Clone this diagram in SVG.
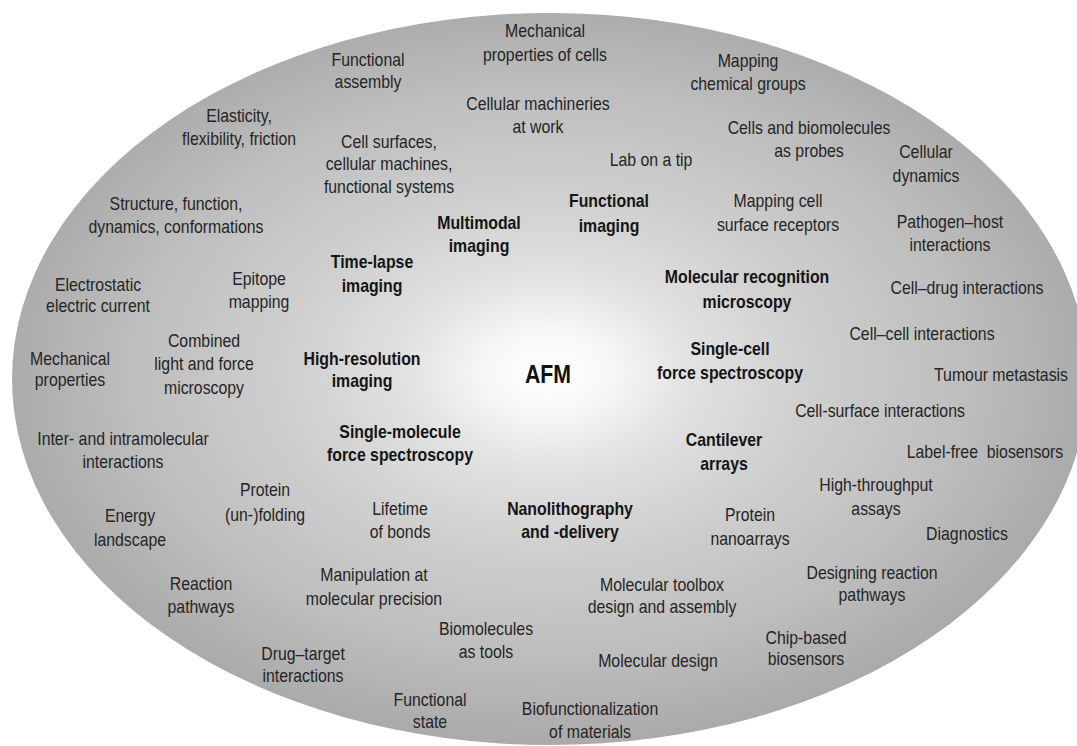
<svg xmlns="http://www.w3.org/2000/svg" width="1077" height="746" viewBox="0 0 1077 746">
<defs>
<radialGradient id="glow" gradientUnits="userSpaceOnUse" cx="548" cy="372" r="560" gradientTransform="translate(548 372) scale(1 0.68) translate(-548 -372)">
<stop offset="0" stop-color="#ffffff"/>
<stop offset="0.1" stop-color="#f8f8f8"/>
<stop offset="0.25" stop-color="#e2e2e2"/>
<stop offset="0.45" stop-color="#d0d0d0"/>
<stop offset="0.75" stop-color="#bdbdbd"/>
<stop offset="1" stop-color="#a8a8a8"/>
</radialGradient>
<style>
text{font-family:"Liberation Sans",Arial,sans-serif;font-size:18px;text-anchor:middle;fill:#252525}
.b{font-weight:bold;fill:#151515}
.afm{font-weight:bold;font-size:26px;fill:#111111}
</style>
</defs>
<rect width="1077" height="746" fill="#ffffff"/>
<ellipse id="background" cx="550" cy="379" rx="538" ry="366" fill="url(#glow)"/>
<g id="labels">
<g id="n1" transform="translate(545 37) scale(0.88 1)"><text><tspan x="0" y="0">Mechanical</tspan><tspan x="0" y="24">properties of cells</tspan></text></g>
<g id="n2" transform="translate(368 66) scale(0.88 1)"><text><tspan x="0" y="0">Functional</tspan><tspan x="0" y="22">assembly</tspan></text></g>
<g id="n3" transform="translate(748 67) scale(0.88 1)"><text><tspan x="0" y="0">Mapping</tspan><tspan x="0" y="23">chemical groups</tspan></text></g>
<g id="n4" transform="translate(239 122) scale(0.88 1)"><text><tspan x="0" y="0">Elasticity,</tspan><tspan x="0" y="23">flexibility, friction</tspan></text></g>
<g id="n5" transform="translate(538 110) scale(0.88 1)"><text><tspan x="0" y="0">Cellular machineries</tspan><tspan x="0" y="23">at work</tspan></text></g>
<g id="n6" transform="translate(389 148) scale(0.88 1)"><text><tspan x="0" y="0">Cell surfaces,</tspan><tspan x="0" y="22">cellular machines,</tspan><tspan x="0" y="45">functional systems</tspan></text></g>
<g id="n7" transform="translate(809 134) scale(0.88 1)"><text><tspan x="0" y="0">Cells and biomolecules</tspan><tspan x="0" y="23">as probes</tspan></text></g>
<g id="n8" transform="translate(651 166) scale(0.88 1)"><text>Lab on a tip</text></g>
<g id="n9" transform="translate(926 158) scale(0.88 1)"><text><tspan x="0" y="0">Cellular</tspan><tspan x="0" y="24">dynamics</tspan></text></g>
<g id="n10" transform="translate(176 210) scale(0.88 1)"><text><tspan x="0" y="0">Structure, function,</tspan><tspan x="0" y="23">dynamics, conformations</tspan></text></g>
<g id="n11" transform="translate(479 229) scale(0.88 1)"><text class="b"><tspan x="0" y="0">Multimodal</tspan><tspan x="0" y="23">imaging</tspan></text></g>
<g id="n12" transform="translate(609 207) scale(0.88 1)"><text class="b"><tspan x="0" y="0">Functional</tspan><tspan x="0" y="25">imaging</tspan></text></g>
<g id="n13" transform="translate(778 207) scale(0.88 1)"><text><tspan x="0" y="0">Mapping cell</tspan><tspan x="0" y="24">surface receptors</tspan></text></g>
<g id="n14" transform="translate(950 228) scale(0.88 1)"><text><tspan x="0" y="0">Pathogen–host</tspan><tspan x="0" y="23">interactions</tspan></text></g>
<g id="n15" transform="translate(372 268) scale(0.88 1)"><text class="b"><tspan x="0" y="0">Time-lapse</tspan><tspan x="0" y="24">imaging</tspan></text></g>
<g id="n16" transform="translate(98 291) scale(0.88 1)"><text><tspan x="0" y="0">Electrostatic</tspan><tspan x="0" y="21">electric current</tspan></text></g>
<g id="n17" transform="translate(259 285) scale(0.88 1)"><text><tspan x="0" y="0">Epitope</tspan><tspan x="0" y="23">mapping</tspan></text></g>
<g id="n18" transform="translate(747 283) scale(0.88 1)"><text class="b"><tspan x="0" y="0">Molecular recognition</tspan><tspan x="0" y="25">microscopy</tspan></text></g>
<g id="n19" transform="translate(967 294) scale(0.88 1)"><text>Cell–drug interactions</text></g>
<g id="n20" transform="translate(922 340) scale(0.88 1)"><text>Cell–cell interactions</text></g>
<g id="n21" transform="translate(70 365) scale(0.88 1)"><text><tspan x="0" y="0">Mechanical</tspan><tspan x="0" y="21">properties</tspan></text></g>
<g id="n22" transform="translate(204 347) scale(0.88 1)"><text><tspan x="0" y="0">Combined</tspan><tspan x="0" y="23">light and force</tspan><tspan x="0" y="47">microscopy</tspan></text></g>
<g id="n23" transform="translate(362 365) scale(0.88 1)"><text class="b"><tspan x="0" y="0">High-resolution</tspan><tspan x="0" y="22">imaging</tspan></text></g>
<g id="n24" transform="translate(548 383) scale(0.82 1)"><text class="afm">AFM</text></g>
<g id="n25" transform="translate(730 355) scale(0.88 1)"><text class="b"><tspan x="0" y="0">Single-cell</tspan><tspan x="0" y="24">force spectroscopy</tspan></text></g>
<g id="n26" transform="translate(1001 381) scale(0.88 1)"><text>Tumour metastasis</text></g>
<g id="n27" transform="translate(880 417) scale(0.88 1)"><text>Cell-surface interactions</text></g>
<g id="n28" transform="translate(123 445) scale(0.88 1)"><text><tspan x="0" y="0">Inter- and intramolecular</tspan><tspan x="0" y="23">interactions</tspan></text></g>
<g id="n29" transform="translate(400 438) scale(0.88 1)"><text class="b"><tspan x="0" y="0">Single-molecule</tspan><tspan x="0" y="23">force spectroscopy</tspan></text></g>
<g id="n30" transform="translate(724 446) scale(0.88 1)"><text class="b"><tspan x="0" y="0">Cantilever</tspan><tspan x="0" y="24">arrays</tspan></text></g>
<g id="n31" transform="translate(985 458) scale(0.88 1)"><text style="white-space:pre">Label-free  biosensors</text></g>
<g id="n32" transform="translate(876 491) scale(0.88 1)"><text><tspan x="0" y="0">High-throughput</tspan><tspan x="0" y="24">assays</tspan></text></g>
<g id="n33" transform="translate(265 496) scale(0.88 1)"><text><tspan x="0" y="0">Protein</tspan><tspan x="0" y="25">(un-)folding</tspan></text></g>
<g id="n34" transform="translate(130 522) scale(0.88 1)"><text><tspan x="0" y="0">Energy</tspan><tspan x="0" y="24">landscape</tspan></text></g>
<g id="n35" transform="translate(400 515) scale(0.88 1)"><text><tspan x="0" y="0">Lifetime</tspan><tspan x="0" y="23">of bonds</tspan></text></g>
<g id="n36" transform="translate(570 515) scale(0.88 1)"><text class="b"><tspan x="0" y="0">Nanolithography</tspan><tspan x="0" y="23">and -delivery</tspan></text></g>
<g id="n37" transform="translate(750 521) scale(0.88 1)"><text><tspan x="0" y="0">Protein</tspan><tspan x="0" y="24">nanoarrays</tspan></text></g>
<g id="n38" transform="translate(967 540) scale(0.88 1)"><text>Diagnostics</text></g>
<g id="n39" transform="translate(201 590) scale(0.88 1)"><text><tspan x="0" y="0">Reaction</tspan><tspan x="0" y="23">pathways</tspan></text></g>
<g id="n40" transform="translate(374 581) scale(0.88 1)"><text><tspan x="0" y="0">Manipulation at</tspan><tspan x="0" y="24">molecular precision</tspan></text></g>
<g id="n41" transform="translate(662 591) scale(0.88 1)"><text><tspan x="0" y="0">Molecular toolbox</tspan><tspan x="0" y="22">design and assembly</tspan></text></g>
<g id="n42" transform="translate(872 579) scale(0.88 1)"><text><tspan x="0" y="0">Designing reaction</tspan><tspan x="0" y="22">pathways</tspan></text></g>
<g id="n43" transform="translate(486 635) scale(0.88 1)"><text><tspan x="0" y="0">Biomolecules</tspan><tspan x="0" y="23">as tools</tspan></text></g>
<g id="n44" transform="translate(303 660) scale(0.88 1)"><text><tspan x="0" y="0">Drug–target</tspan><tspan x="0" y="22">interactions</tspan></text></g>
<g id="n45" transform="translate(806 644) scale(0.88 1)"><text><tspan x="0" y="0">Chip-based</tspan><tspan x="0" y="21">biosensors</tspan></text></g>
<g id="n46" transform="translate(658 667) scale(0.88 1)"><text>Molecular design</text></g>
<g id="n47" transform="translate(430 706) scale(0.88 1)"><text><tspan x="0" y="0">Functional</tspan><tspan x="0" y="22">state</tspan></text></g>
<g id="n48" transform="translate(590 715) scale(0.88 1)"><text><tspan x="0" y="0">Biofunctionalization</tspan><tspan x="0" y="23">of materials</tspan></text></g>
</g>
</svg>
